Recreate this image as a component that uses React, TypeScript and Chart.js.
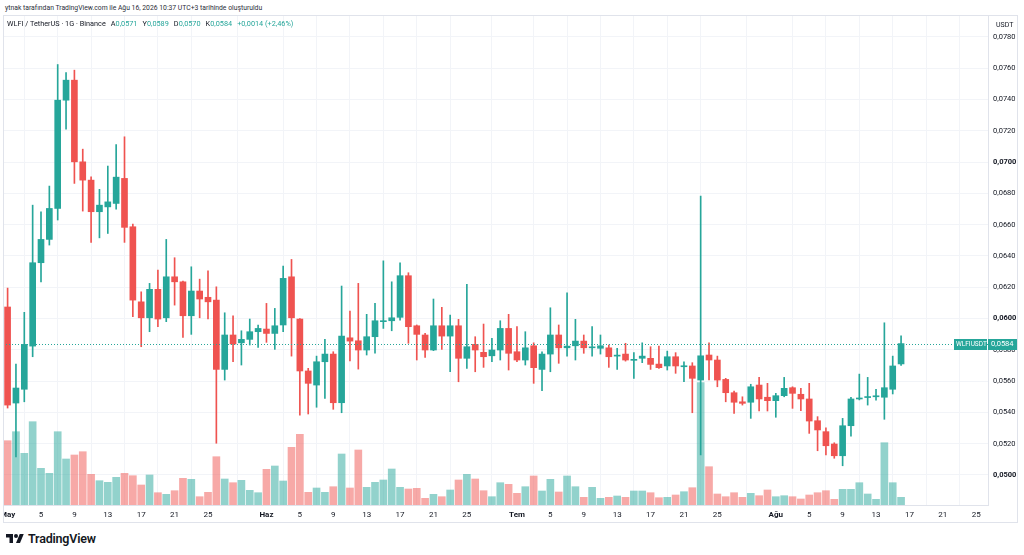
import React, { useEffect, useRef } from "react";
import { Chart, registerables } from "chart.js";

Chart.register(...registerables);

// ---- DATA (daily candles, May 1 -> Aug 16) ----
const opens = [
  0.06074, 0.0546, 0.05548, 0.05824, 0.06357, 0.06506, 0.06704, 0.07396, 0.07524, 0.07002,
  0.06885, 0.06683, 0.06714, 0.06736, 0.06896, 0.06587, 0.06107, 0.06005, 0.06187, 0.06005,
  0.06267, 0.06235, 0.06018, 0.06176, 0.06136, 0.06118, 0.05675, 0.05895, 0.05845, 0.05867,
  0.05916, 0.05933, 0.05905, 0.05959, 0.06267, 0.05997, 0.05665, 0.05575, 0.05724, 0.05773,
  0.05462, 0.05877, 0.05858, 0.05799, 0.05884, 0.0598, 0.05986, 0.06008, 0.06274, 0.05954,
  0.05895, 0.05799, 0.05954, 0.05888, 0.05954, 0.05746, 0.05835, 0.05784, 0.05762, 0.05799,
  0.05937, 0.05788, 0.05735, 0.05826, 0.05675, 0.05773, 0.05895, 0.05813, 0.05826, 0.05856,
  0.05813, 0.0581, 0.05813, 0.0576, 0.05773, 0.05733, 0.05746, 0.05746, 0.05709, 0.05697,
  0.05756, 0.05692, 0.05697, 0.05607, 0.05767, 0.05735, 0.05611, 0.05526, 0.05468, 0.05465,
  0.05575, 0.05497, 0.05475, 0.05507, 0.05558, 0.05516, 0.05486, 0.05347, 0.05277, 0.05198,
  0.05123, 0.05315, 0.05486, 0.05495, 0.055, 0.05497, 0.05548, 0.0571,
];
const highs = [
  0.06195, 0.05709, 0.0604, 0.06725, 0.06683, 0.06847, 0.07624, 0.07573, 0.07588, 0.07083,
  0.06906, 0.06826, 0.06975, 0.07113, 0.07162, 0.06604, 0.06171, 0.06225, 0.0631, 0.06506,
  0.06389, 0.0624, 0.06331, 0.06252, 0.06305, 0.06203, 0.06037, 0.06018, 0.05922, 0.05997,
  0.05959, 0.06097, 0.06065, 0.06336, 0.06378, 0.06, 0.05682, 0.0576, 0.05867, 0.05788,
  0.06208, 0.06048, 0.06225, 0.06027, 0.06097, 0.06369, 0.06235, 0.06357, 0.06293, 0.05959,
  0.05905, 0.06125, 0.06072, 0.06022, 0.05995, 0.06219, 0.05884, 0.05965, 0.05874, 0.05986,
  0.06027, 0.05948, 0.05916, 0.05845, 0.05788, 0.06069, 0.05959, 0.06165, 0.05995, 0.05895,
  0.05948, 0.05895, 0.05831, 0.0581, 0.05842, 0.05782, 0.05845, 0.0582, 0.05824, 0.05792,
  0.05782, 0.05724, 0.05718, 0.06783, 0.05845, 0.0576, 0.05618, 0.05537, 0.055, 0.0558,
  0.05624, 0.05586, 0.05522, 0.05624, 0.05564, 0.05554, 0.05586, 0.05373, 0.05302, 0.05206,
  0.05362, 0.05497, 0.05645, 0.05624, 0.05548, 0.05973, 0.0576, 0.0589,
];
const lows = [
  0.05428, 0.05115, 0.05468, 0.05756, 0.06235, 0.0647, 0.0663, 0.07211, 0.06864, 0.06687,
  0.06487, 0.06516, 0.06544, 0.067, 0.06487, 0.06012, 0.0582, 0.05916, 0.05948, 0.0598,
  0.06086, 0.0588, 0.05899, 0.06005, 0.05997, 0.05203, 0.05607, 0.05724, 0.05703, 0.05831,
  0.05816, 0.05848, 0.05803, 0.05916, 0.0576, 0.05383, 0.0539, 0.05433, 0.0549, 0.0542,
  0.05398, 0.0573, 0.05677, 0.05767, 0.05778, 0.05937, 0.05922, 0.0599, 0.05842, 0.05735,
  0.05752, 0.05795, 0.05803, 0.0566, 0.05596, 0.05682, 0.0566, 0.05688, 0.05724, 0.05735,
  0.05671, 0.05724, 0.05703, 0.05586, 0.05539, 0.0566, 0.05714, 0.0576, 0.05735, 0.05778,
  0.0576, 0.05773, 0.05688, 0.05675, 0.05728, 0.05618, 0.05718, 0.05675, 0.05682, 0.05671,
  0.0565, 0.05596, 0.05398, 0.05128, 0.05607, 0.05564, 0.05468, 0.05394, 0.05447, 0.05362,
  0.05409, 0.05409, 0.05369, 0.055, 0.05426, 0.05411, 0.05266, 0.05155, 0.05128, 0.05107,
  0.05059, 0.05249, 0.0548, 0.05447, 0.05479, 0.05356, 0.05518, 0.057,
];
const closes = [
  0.05447, 0.05556, 0.05835, 0.06357, 0.06506, 0.06704, 0.07396, 0.07524, 0.07002, 0.06885,
  0.06683, 0.06725, 0.06746, 0.06904, 0.06583, 0.06118, 0.06005, 0.06187, 0.05997, 0.06267,
  0.06235, 0.06018, 0.06176, 0.06125, 0.06107, 0.05675, 0.05895, 0.05837, 0.05867, 0.05916,
  0.05937, 0.05905, 0.05954, 0.06257, 0.06005, 0.05665, 0.05586, 0.05724, 0.05773, 0.05462,
  0.05888, 0.05856, 0.05799, 0.05884, 0.05986, 0.05985, 0.06005, 0.06274, 0.05948, 0.05899,
  0.05799, 0.05954, 0.05888, 0.05954, 0.05746, 0.0582, 0.05799, 0.05756, 0.05799, 0.05937,
  0.05778, 0.05735, 0.05813, 0.05686, 0.05773, 0.05895, 0.05813, 0.05824, 0.05856, 0.05813,
  0.05815, 0.05826, 0.05756, 0.05762, 0.05735, 0.05736, 0.0576, 0.05707, 0.05686, 0.05756,
  0.05697, 0.05694, 0.05618, 0.05762, 0.05735, 0.05607, 0.05526, 0.05465, 0.05458, 0.05564,
  0.05486, 0.05475, 0.05507, 0.05554, 0.05522, 0.05486, 0.05345, 0.05288, 0.05187, 0.05123,
  0.05315, 0.05486, 0.05488, 0.05497, 0.05502, 0.05558, 0.05697, 0.0584,
];
// volume in millions WLFI
const volumes = [
  64.3, 73.3, 51.7, 83.3, 36.7, 31.7, 73.3, 46, 50, 53.3, 30.7, 24.3, 22.7, 27.7, 31.7,
  29.3, 20, 30, 12.3, 10.7, 14.3, 26.7, 25.7, 8.3, 12.7, 48.3, 26, 22.3, 24.7, 14.7,
  12.3, 35.7, 39, 24, 57.7, 70.7, 12.7, 17, 12.7, 18.3, 51, 17, 55, 17.7, 22.7,
  25, 36, 17.7, 16, 16.7, 6.7, 10.7, 8.3, 15, 25, 30.7, 26, 14.3, 8.3, 22.3,
  20.7, 11.7, 18.3, 29, 14, 25.7, 13, 29, 18.3, 7.7, 17.7, 6.7, 7.7, 9, 7.7,
  14, 14, 12.3, 7.3, 7.7, 10, 13.3, 17.3, 122.3, 38.3, 11, 8.3, 12.3, 7.7, 11.7,
  9.3, 15, 8.3, 9.3, 8.3, 6, 10, 12.3, 14.3, 5.7, 15.7, 15.7, 22.3, 11, 5.7,
  62.3, 22.3, 7.7,
];
// x tick positions (day index from May 1) and labels
const tickDays = [0, 4, 8, 12, 16, 20, 24, 31, 35, 39, 43, 47, 51, 55, 61, 65, 69, 73, 77, 81, 85, 92, 96, 100, 104, 108, 112, 116];
const tickLabels = ["May", "5", "9", "13", "17", "21", "25", "Haz", "5", "9", "13", "17", "21", "25", "Tem", "5", "9", "13", "17", "21", "25", "Ağu", "5", "9", "13", "17", "21", "25"];
const monthLabels = ["May", "Haz", "Tem", "Ağu"];
const priceTicks = [0.05, 0.052, 0.054, 0.056, 0.058, 0.06, 0.062, 0.064, 0.066, 0.068, 0.07, 0.072, 0.074, 0.076, 0.078];
const lastPrice = 0.0584;
const symbol = "WLFIUSDT";

// ---- STYLE ----
const UP = "#26a69a";
const DOWN = "#ef5350";
const UP_VOL = "rgba(38,166,154,0.5)";
const DOWN_VOL = "rgba(239,83,80,0.5)";
const GRID = "#f2f4f8";
const AXIS = "#e0e3eb";
const TEXT = "#131722";
const FONT = "Roboto, 'Noto Sans', sans-serif";

const X_MIN = -0.91;
const X_MAX = 117.41;
const Y_MIN = 0.048082;
const Y_MAX = 0.079406;
const VOL_MAX = 490;
const TOP_PAD = 14;

const fmt = (v: number) => v.toFixed(4).replace(".", ",");

export default function App() {
  const ref = useRef<HTMLCanvasElement>(null);

  useEffect(() => {
    document.body.style.margin = "0";
    document.body.style.overflow = "hidden";
    const canvas = ref.current!;
    const up = closes.map((c, i) => c >= opens[i]);

    const priceTag = {
      id: "priceTag",
      afterDraw(chart: any) {
        const ctx = chart.ctx;
        const y = Math.round(chart.scales.y.getPixelForValue(lastPrice));
        const { left, right } = chart.chartArea;
        ctx.save();
        ctx.strokeStyle = UP;
        ctx.lineWidth = 1;
        ctx.setLineDash([1, 2]);
        ctx.beginPath();
        ctx.moveTo(left, y + 0.5);
        ctx.lineTo(right, y + 0.5);
        ctx.stroke();
        ctx.setLineDash([]);
        ctx.fillStyle = UP;
        ctx.fillRect(right, y - 5, 29, 11);
        ctx.fillRect(right - 34, y - 5, 33, 11);
        ctx.fillStyle = "#ffffff";
        ctx.textBaseline = "middle";
        ctx.textAlign = "left";
        ctx.font = `7.5px ${FONT}`;
        ctx.fillText(fmt(lastPrice), right + 3, y + 0.5);
        ctx.font = `6.5px ${FONT}`;
        ctx.fillText(symbol, right - 32, y + 0.5);
        ctx.restore();
      },
    };

    const chart = new Chart(canvas, {
      type: "bar",
      data: {
        datasets: [
          {
            label: "Hacim",
            data: volumes.map((v, i) => ({ x: i, y: v })) as any,
            backgroundColor: up.map((u) => (u ? UP_VOL : DOWN_VOL)),
            barThickness: 7,
            grouped: false,
            yAxisID: "yv",
            order: 3,
          },
          {
            label: "wick",
            data: highs.map((h, i) => ({ x: i, y: [lows[i], h] })) as any,
            backgroundColor: up.map((u) => (u ? UP : DOWN)),
            barThickness: 1,
            grouped: false,
            yAxisID: "y",
            order: 2,
          },
          {
            label: "body",
            data: opens.map((o, i) => ({ x: i, y: [o, closes[i]] })) as any,
            backgroundColor: up.map((u) => (u ? UP : DOWN)),
            barThickness: 6,
            minBarLength: 1,
            grouped: false,
            yAxisID: "y",
            order: 1,
          },
        ],
      },
      options: {
        animation: false,
        responsive: false,
        layout: { padding: { left: 20, top: TOP_PAD, right: 0, bottom: 0 } },
        plugins: { legend: { display: false }, tooltip: { enabled: false } },
        scales: {
          x: {
            type: "linear",
            min: X_MIN,
            max: X_MAX,
            offset: false,
            afterBuildTicks: (s: any) => {
              s.ticks = tickDays.map((v) => ({ value: v }));
            },
            afterFit: (s: any) => {
              s.height = 17;
            },
            ticks: {
              autoSkip: false,
              maxRotation: 0,
              padding: 5,
              color: TEXT,
              font: (c: any) => ({
                family: FONT,
                size: 8,
                weight: monthLabels.includes(tickLabels[c.index]) ? "bold" : "normal",
              }),
              callback: (_v: any, i: number) => tickLabels[i] ?? "",
            },
            grid: { color: GRID, drawTicks: false },
            border: { display: true, color: AXIS },
          },
          y: {
            position: "right",
            min: Y_MIN,
            max: Y_MAX,
            afterBuildTicks: (s: any) => {
              s.ticks = priceTicks.map((v) => ({ value: v }));
            },
            afterFit: (s: any) => {
              s.width = 29;
            },
            ticks: {
              padding: 5,
              color: TEXT,
              font: (c: any) => {
                const v = c.tick ? c.tick.value : 0;
                const major = Math.abs(v * 100 - Math.round(v * 100)) < 1e-6;
                return { family: FONT, size: 7.5, weight: major ? "bold" : "normal" };
              },
              callback: (v: any) => fmt(Number(v)),
            },
            grid: { color: GRID, drawTicks: false },
            border: { display: true, color: AXIS },
          },
          yv: {
            display: false,
            position: "left",
            min: 0,
            max: VOL_MAX,
          },
        },
      } as any,
      plugins: [priceTag],
    });
    return () => chart.destroy();
  }, []);

  const legendVal = { color: UP };
  return (
    <div style={{ position: "fixed", left: 0, top: 0, width: 1024, height: 555, background: "#fff", fontFamily: FONT, color: TEXT }}>
      <div style={{ position: "absolute", left: 5, top: 3, fontSize: 6.8, lineHeight: "10px", whiteSpace: "nowrap", color: "#2a2e39" }}>
        ytnak tarafından TradingView.com ile Ağu 16, 2026 10:37 UTC+3 tarihinde oluşturuldu
      </div>
      <div style={{ position: "absolute", left: 3, top: 15, width: 1014, height: 507, overflow: "hidden" }}>
        <canvas ref={ref} width={1037} height={507 + TOP_PAD} style={{ position: "absolute", left: -23, top: -TOP_PAD, width: 1037, height: 507 + TOP_PAD }} />
      </div>
      <div style={{ position: "absolute", left: 3, top: 15, width: 1013, height: 506, border: `1px solid ${AXIS}`, pointerEvents: "none" }} />
      <div style={{ position: "absolute", left: 7, top: 19, fontSize: 7.3, lineHeight: "10px", whiteSpace: "nowrap" }}>
        <span>WLFI / TetherUS · 1G · Binance</span>
        <span style={{ marginLeft: 5 }}>A<span style={legendVal}>0,0571</span></span>
        <span style={{ marginLeft: 5 }}>Y<span style={legendVal}>0,0589</span></span>
        <span style={{ marginLeft: 5 }}>D<span style={legendVal}>0,0570</span></span>
        <span style={{ marginLeft: 5 }}>K<span style={legendVal}>0,0584</span></span>
        <span style={{ marginLeft: 5, color: UP }}>+0,0014 (+2,46%)</span>
      </div>
      <div style={{ position: "absolute", left: 996, top: 20, fontSize: 7, lineHeight: "10px" }}>USDT</div>
      <div style={{ position: "absolute", left: 6, top: 531, display: "flex", alignItems: "center", gap: 4 }}>
        <svg width="18" height="14" viewBox="0 0 36 28" aria-hidden="true">
          <path d="M14 22H7V11H0V4h14v18z" fill={TEXT} />
          <circle cx="20" cy="8" r="4" fill={TEXT} />
          <path d="M28 22h-8l7.5-18h8z" fill={TEXT} />
        </svg>
        <span style={{ fontSize: 12.5, fontWeight: 600, letterSpacing: -0.2 }}>TradingView</span>
      </div>
    </div>
  );
}
